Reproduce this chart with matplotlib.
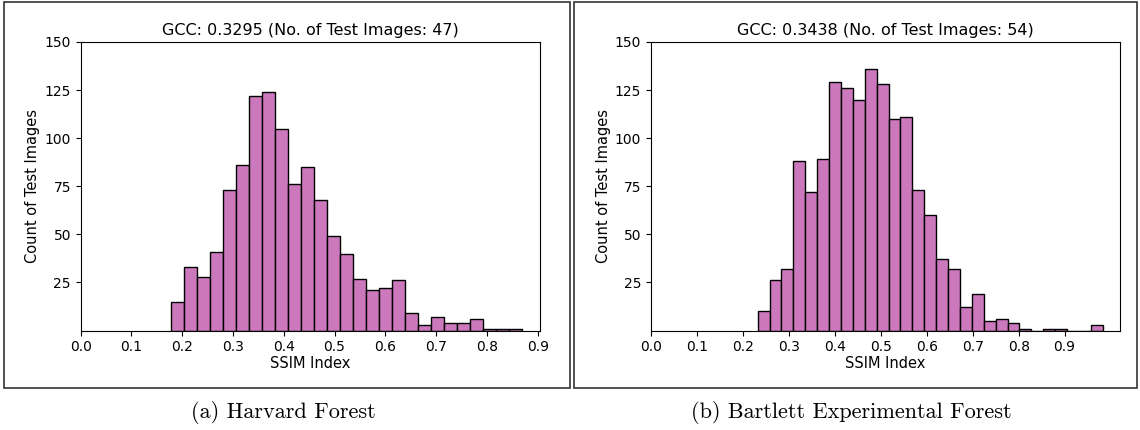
import numpy as np
import matplotlib
matplotlib.use("Agg")
import matplotlib.pyplot as plt
from matplotlib.patches import Rectangle

# ---- data ----
harvard_counts = [15, 33, 28, 41, 73, 86, 122, 124, 105, 76, 85, 68, 49, 40,
                  27, 21, 22, 26, 9, 3, 7, 4, 4, 6, 1, 1, 1]
harvard_range = (0.177, 0.870)
bartlett_counts = [10, 26, 32, 88, 72, 89, 129, 126, 120, 136, 128, 110, 111,
                   73, 60, 37, 32, 12, 19, 5, 6, 4, 1, 0, 1, 1, 0, 0, 3]
bartlett_range = (0.232, 0.983)
titles = ["GCC: 0.3295 (No. of Test Images: 47)",
          "GCC: 0.3438 (No. of Test Images: 54)"]
captions = ["(a) Harvard Forest", "(b) Bartlett Experimental Forest"]
xticks = [0.0, 0.1, 0.2, 0.3, 0.4, 0.5, 0.6, 0.7, 0.8, 0.9]
yticks = [25, 50, 75, 100, 125, 150]
bar_color = "#CC78BC"

W, H = 1140, 430
fig = plt.figure(figsize=(W / 100, H / 100), dpi=100)

panels = [
    dict(counts=harvard_counts, rng=harvard_range, ax=(80.7, 540), frame=(4, 570),
         cap_x=283),
    dict(counts=bartlett_counts, rng=bartlett_range, ax=(651, 1120), frame=(574, 1137),
         cap_x=851),
]
top_px, bot_px = 42, 330.5

for p, title, cap in zip(panels, titles, captions):
    x0, x1 = p["ax"]
    ax = fig.add_axes([x0 / W, (H - bot_px) / H, (x1 - x0) / W, (bot_px - top_px) / H])
    counts = np.array(p["counts"], dtype=float)
    lo, hi = p["rng"]
    edges = np.linspace(lo, hi, len(counts) + 1)
    centers = 0.5 * (edges[:-1] + edges[1:])
    ax.hist(centers, bins=edges, weights=counts, color=bar_color,
            edgecolor="black", linewidth=1.0)
    ax.set_xlim(0, hi + 0.05 * (hi - lo))
    ax.set_ylim(0, 150)
    ax.set_xticks(xticks)
    ax.set_xticklabels([f"{t:.1f}" for t in xticks])
    ax.set_yticks(yticks)
    ax.tick_params(labelsize=10)
    ax.set_xlabel("SSIM Index", fontsize=10.5, labelpad=1)
    ax.set_ylabel("Count of Test Images", fontsize=10.5, labelpad=3)
    ax.set_title(title, fontsize=11.5, pad=5)

    f0, f1 = p["frame"]
    fig.patches.append(Rectangle((f0 / W, (H - 388) / H), (f1 - f0) / W, (388 - 1.5) / H,
                                 transform=fig.transFigure, fill=False,
                                 edgecolor="#333333", linewidth=1.2))
    fig.text(p["cap_x"] / W, (H - 412) / H, cap, ha="center", va="center",
             fontsize=16, family="cmr10")

fig.savefig("out.png", dpi=100)
